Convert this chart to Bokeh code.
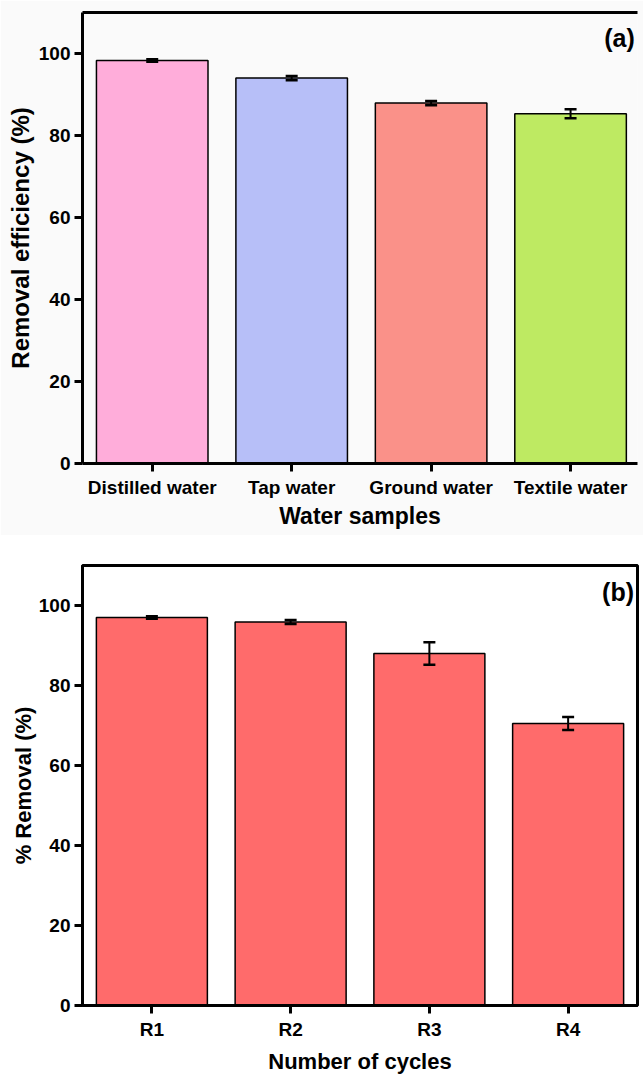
from bokeh.plotting import figure
from bokeh.models import (Range1d, FixedTicker, LinearAxis, Whisker, TeeHead,
                          ColumnDataSource, Label)
from bokeh.layouts import column
from bokeh.embed import file_html
from bokeh.resources import INLINE

# ---- data ----
categories_a = ["Distilled water", "Tap water", "Ground water", "Textile water"]
values_a = [98.3, 94.0, 87.9, 85.3]
errors_a = [0.3, 0.5, 0.5, 1.1]
colors_a = ["#FFADDA", "#B7BFF8", "#FA9189", "#BEEA62"]

categories_b = ["R1", "R2", "R3", "R4"]
values_b = [97.0, 95.9, 88.0, 70.5]
errors_b = [0.3, 0.5, 2.8, 1.6]
color_b = "#FF6B6B"

y_ticks = [0, 20, 40, 60, 80, 100]

FONT = "Liberation Sans"


def style_axes(p, xcats, xs, xlabel, ylabel, ylab_standoff, xlab_standoff,
               xtick_size, ylab_size, xlab_size, xtick_standoff):
    p.xgrid.visible = False
    p.ygrid.visible = False
    xa = p.xaxis[0]
    xa.ticker = FixedTicker(ticks=xs)
    xa.major_label_overrides = {x: c for x, c in zip(xs, xcats)}
    xa.axis_label = xlabel
    ya = p.yaxis[0]
    ya.ticker = FixedTicker(ticks=y_ticks)
    ya.axis_label = ylabel
    for ax in (xa, ya):
        ax.axis_line_width = 3
        ax.axis_line_color = "black"
        ax.major_tick_line_width = 3
        ax.major_tick_line_color = "black"
        ax.major_tick_in = 0
        ax.major_tick_out = 8
        ax.minor_tick_line_color = None
        ax.major_label_text_font = FONT
        ax.major_label_text_font_style = "bold"
        ax.major_label_text_color = "black"
        ax.axis_label_text_font = FONT
        ax.axis_label_text_font_style = "bold"
        ax.axis_label_text_color = "black"
    xa.axis_label_text_font_size = xlab_size
    ya.axis_label_text_font_size = ylab_size
    ya.major_label_text_font_size = "19px"
    xa.major_label_text_font_size = xtick_size
    ya.axis_label_standoff = ylab_standoff
    xa.major_label_standoff = xtick_standoff
    xa.axis_label_standoff = xlab_standoff
    ya.major_label_standoff = 4


def add_whisker(p, src):
    w = Whisker(base="x", upper="upper", lower="lower", source=src,
                level="overlay", line_color="black", line_width=2,
                upper_head=TeeHead(size=12, line_width=2.5, line_color="black"),
                lower_head=TeeHead(size=12, line_width=2.5, line_color="black"))
    p.add_layout(w)


# ---------- panel (a) ----------
xs_a = list(range(1, len(categories_a) + 1))
src_a = ColumnDataSource(dict(
    x=xs_a, top=values_a, color=colors_a,
    upper=[v + e for v, e in zip(values_a, errors_a)],
    lower=[v - e for v, e in zip(values_a, errors_a)],
))
p1 = figure(width=643, height=535, output_backend="svg", toolbar_location=None,
            x_range=Range1d(0.5, 4.48), y_range=Range1d(0, 110),
            min_border_left=82, min_border_right=0, min_border_top=12,
            min_border_bottom=72)
p1.background_fill_color = "#fafafa"
p1.border_fill_color = "#fafafa"
p1.outline_line_color = None
p1.vbar(x="x", top="top", width=0.8, fill_color="color", line_color="black",
        line_width=1.5, source=src_a)
add_whisker(p1, src_a)
style_axes(p1, categories_a, xs_a, "Water samples", "Removal efficiency (%)", 2, 2,
           "19px", "24px", "23px", 5)
top_ax = LinearAxis(ticker=FixedTicker(ticks=[]), axis_line_width=3,
                    axis_line_color="black", major_tick_line_color=None,
                    minor_tick_line_color=None, major_label_text_font_size="0px",
                    major_label_standoff=0)
p1.add_layout(top_ax, "above")
p1.add_layout(Label(x=4.46, y=103.7, text="(a)", text_align="right",
                    text_baseline="middle", text_font=FONT, text_font_style="bold",
                    text_font_size="25px", text_color="black"))

# ---------- panel (b) ----------
xs_b = list(range(1, len(categories_b) + 1))
src_b = ColumnDataSource(dict(
    x=xs_b, top=values_b,
    upper=[v + e for v, e in zip(values_b, errors_b)],
    lower=[v - e for v, e in zip(values_b, errors_b)],
))
p2 = figure(width=643, height=541, output_backend="svg", toolbar_location=None,
            x_range=Range1d(0.5, 4.5), y_range=Range1d(0, 110),
            min_border_left=82, min_border_right=6, min_border_top=30,
            min_border_bottom=68)
p2.background_fill_color = "white"
p2.border_fill_color = "white"
p2.outline_line_color = "black"
p2.outline_line_width = 3
p2.vbar(x="x", top="top", width=0.8, fill_color=color_b, line_color="black",
        line_width=1.5, source=src_b)
add_whisker(p2, src_b)
style_axes(p2, categories_b, xs_b, "Number of cycles", "% Removal (%)", 0, 6,
           "19px", "22px", "22px", 5)
p2.add_layout(Label(x=4.475, y=103.5, text="(b)", text_align="right",
                    text_baseline="middle", text_font=FONT, text_font_style="bold",
                    text_font_size="25px", text_color="black"))

layout = column(p1, p2, spacing=0)
open("out.html", "w").write(file_html(layout, INLINE))
